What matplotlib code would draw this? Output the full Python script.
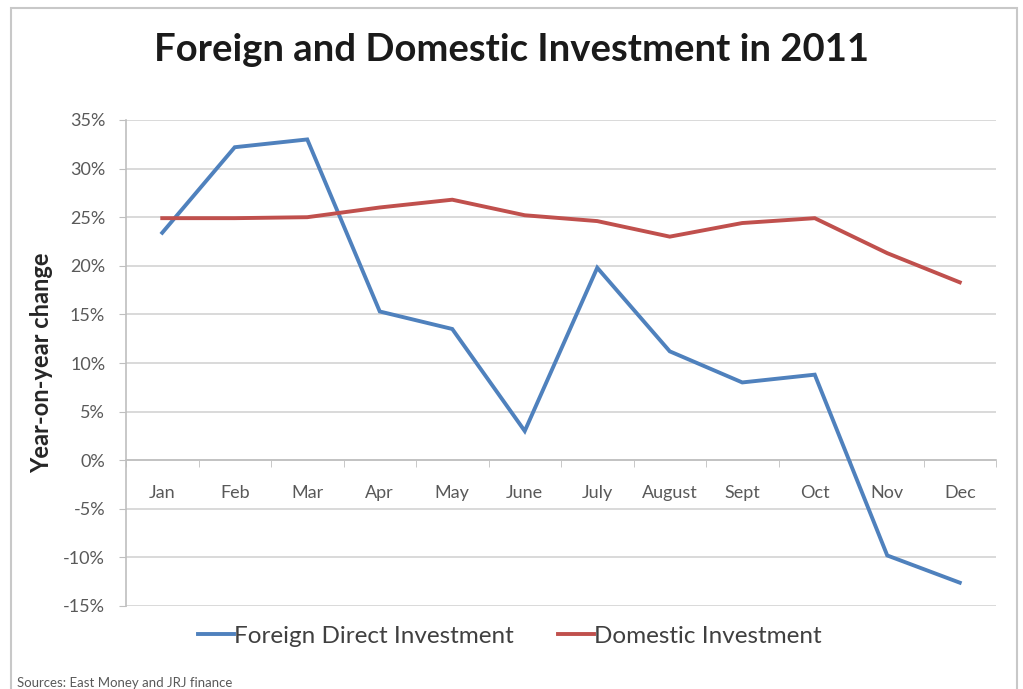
import matplotlib
matplotlib.use("Agg")
import matplotlib.pyplot as plt
from matplotlib.patches import Rectangle
from matplotlib.ticker import FuncFormatter, FixedLocator

months = ["Jan", "Feb", "Mar", "Apr", "May", "June", "July", "August", "Sept", "Oct", "Nov", "Dec"]
fdi = [23.4, 32.2, 33.0, 15.3, 13.5, 3.0, 19.8, 11.2, 8.0, 8.8, -9.8, -12.6]
domestic = [24.9, 24.9, 25.0, 26.0, 26.8, 25.2, 24.6, 23.0, 24.4, 24.9, 21.3, 18.3]
yticks = [-15, -10, -5, 0, 5, 10, 15, 20, 25, 30, 35]

plt.rcParams['font.family'] = ['Lato', 'DejaVu Sans']

W, H = 1023, 689
fig = plt.figure(figsize=(W / 100, H / 100), dpi=100)
fig.patch.set_facecolor("white")

# chart border
fig.patches.append(Rectangle((11 / W, -0.02), (1017 - 11) / W, 1 - 8 / H + 0.02,
                             transform=fig.transFigure, fill=False,
                             edgecolor="#c8c8c8", linewidth=1.5))

left, right, top, bottom = 126, 996, 120, 606
ax = fig.add_axes([left / W, 1 - bottom / H, (right - left) / W, (bottom - top) / H])

x = list(range(len(months)))
ax.plot(x, fdi, color="#4F81BD", linewidth=2.8, solid_joinstyle="miter", label="Foreign Direct Investment", zorder=3)
ax.plot(x, domestic, color="#C0504D", linewidth=2.8, solid_joinstyle="miter", label="Domestic Investment", zorder=3)

ax.set_xlim(-0.5, len(months) - 0.5)
ax.set_ylim(-15, 35)
ax.set_yticks(yticks)
ax.yaxis.set_major_formatter(FuncFormatter(lambda v, p: f"{int(v)}%"))
ax.grid(axis="y", color="#d9d9d9", linewidth=1.4)
ax.set_axisbelow(True)

for s in ["top", "right"]:
    ax.spines[s].set_visible(False)
ax.spines["left"].set_color("#bfbfbf")
ax.spines["left"].set_linewidth(1.2)
ax.spines["bottom"].set_position(("data", 0))
ax.spines["bottom"].set_color("#bfbfbf")
ax.spines["bottom"].set_linewidth(1.2)

ax.set_xticks(x)
ax.set_xticklabels(months)
ax.xaxis.set_minor_locator(FixedLocator([i + 0.5 for i in range(-1, len(months))]))
ax.tick_params(axis="x", which="major", length=0, pad=18, labelsize=13, labelcolor="#595959")
ax.tick_params(axis="x", which="minor", length=5, color="#bfbfbf", direction="out")
ax.tick_params(axis="y", which="major", length=5, color="#bfbfbf", labelsize=13, labelcolor="#595959", pad=10)

ax.set_ylabel("Year-on-year change", fontsize=17, fontweight="bold", color="#262626")
ax.yaxis.label.set_va("center")
ax.yaxis.set_label_coords(-84 / (right - left), 0.5)

fig.text(0.5, 1 - 50 / H, "Foreign and Domestic Investment in 2011", ha="center", va="center",
         fontsize=27.5, fontweight="bold", color="#1a1a1a")

leg = fig.legend(loc="center", bbox_to_anchor=(510 / W, 1 - 636 / H), ncol=2, frameon=False,
                 fontsize=17.5, handlelength=1.5, handletextpad=0.0, columnspacing=1.8)
for t in leg.get_texts():
    t.set_color("#404040")

fig.text(17 / W, 1 - 683 / H, "Sources: East Money and JRJ finance", ha="left", va="center",
         fontsize=9.5, color="#595959")

fig.savefig("out.png", dpi=100, facecolor="white")
